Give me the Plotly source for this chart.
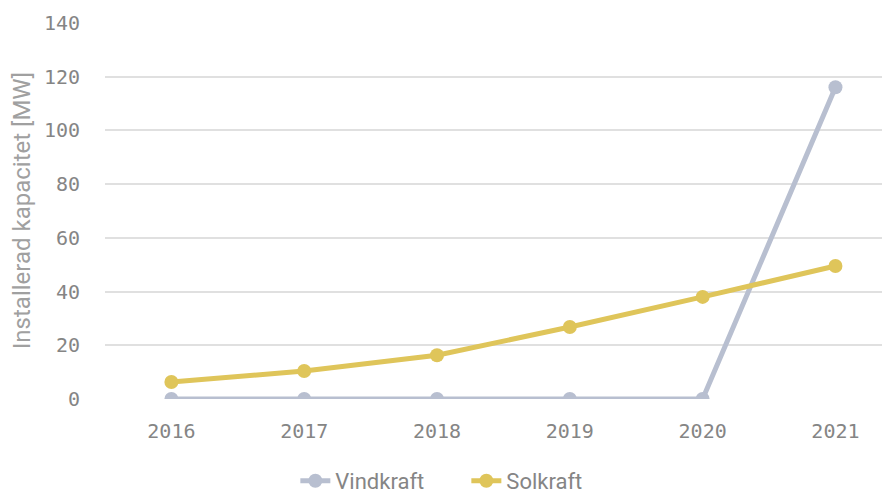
import plotly.graph_objects as go

years = ["2016", "2017", "2018", "2019", "2020", "2021"]
vindkraft = [0, 0, 0, 0, 0, 116]
solkraft = [6.3, 10.4, 16.3, 26.8, 38.0, 49.5]
y_ticks = [0, 20, 40, 60, 80, 100, 120, 140]

fig = go.Figure()
fig.add_trace(go.Scatter(x=years, y=vindkraft, name="Vindkraft", mode="lines+markers",
                         line=dict(color="#b8bfd0", width=5), marker=dict(size=14, color="#b8bfd0")))
fig.add_trace(go.Scatter(x=years, y=solkraft, name="Solkraft", mode="lines+markers",
                         line=dict(color="#dfc55a", width=5), marker=dict(size=14, color="#dfc55a")))

fig.update_layout(
    width=890, height=494,
    margin=dict(l=97, r=0, t=14, b=103, autoexpand=False),
    plot_bgcolor="white", paper_bgcolor="white",
    font=dict(family="DejaVu Sans Mono", color="#858585", size=20),
    legend=dict(orientation="h", xref="container", x=0.515, xanchor="center", yref="container", y=-0.005, yanchor="bottom",
                font=dict(family="Roboto", size=22, color="#858585"), entrywidth=126),
    showlegend=True,
)
fig.update_xaxes(type="category", range=[-0.5, 5.471], showgrid=False, showline=False,
                 ticks="", automargin=False, ticklabelstandoff=18)
fig.update_yaxes(range=[0, 140.3], tickvals=y_ticks, gridcolor="#e0e0e0", gridwidth=2,
                 zeroline=False, showline=False, ticks="", ticklabelstandoff=24, automargin=False,
                 title=dict(text="Installerad kapacitet [MW]", font=dict(family="Roboto", size=24, color="#a0a0a0"), standoff=6))
fig.write_html("out.html")
